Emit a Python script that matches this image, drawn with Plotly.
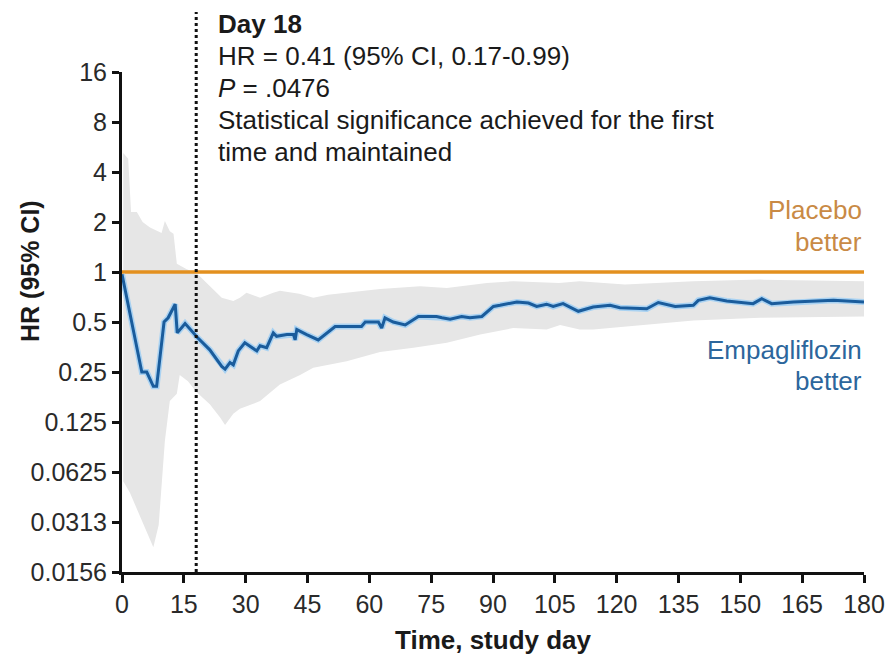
import plotly.graph_objects as go

# Hazard ratio over time (study day), with 95% CI band
hr_day = [0, 4.8, 6, 7.6, 8.4, 10.2, 11.2, 12.9, 13.4, 15.3, 17.7, 18, 21.3, 24.2, 25,
          26.2, 27, 28.2, 29.8, 32.7, 33.5, 35.1, 36.7, 37.5, 40, 41.6, 42, 42.4, 44.8,
          47.6, 51.7, 58.1, 59, 62.2, 63, 63.8, 65.8, 68.7, 71.9, 76.3, 77.6, 79.6, 82.4,
          84.4, 87.3, 90.1, 91.7, 95.8, 98.6, 100.6, 103, 104.6, 107, 110.7, 114.3, 118.4,
          120.8, 127.3, 130.1, 134.2, 138.6, 139.8, 142.6, 146.7, 153.1, 155.2, 157.6,
          162.9, 172.6, 180]
hr_val = [0.97, 0.25, 0.25, 0.205, 0.205, 0.5, 0.53, 0.64, 0.43, 0.49, 0.42, 0.41, 0.34,
          0.27, 0.26, 0.285, 0.276, 0.335, 0.375, 0.335, 0.36, 0.35, 0.43, 0.41, 0.42, 0.42,
          0.39, 0.45, 0.42, 0.39, 0.47, 0.47, 0.5, 0.5, 0.46, 0.53, 0.5, 0.48, 0.54, 0.54,
          0.53, 0.52, 0.54, 0.53, 0.54, 0.62, 0.63, 0.66, 0.65, 0.62, 0.64, 0.62, 0.645,
          0.58, 0.615, 0.63, 0.61, 0.6, 0.655, 0.62, 0.63, 0.675, 0.7, 0.67, 0.645, 0.69,
          0.645, 0.66, 0.675, 0.66]

ci_hi_day = [0.3, 1.0, 1.5, 2.2, 3.6, 5, 6.8, 9.6, 10.4, 11.6, 12.5, 13.3, 15.7, 18, 22,
             24.2, 27, 28.6, 30.2, 33.5, 36.7, 38.3, 43, 46.4, 50, 54.5, 62.6, 72.3, 78.8,
             88.5, 94.9, 106, 111, 122, 138.6, 154.8, 165, 180]
ci_hi = [5.2, 5.0, 4.8, 2.3, 2.3, 2.0, 1.85, 1.72, 2.03, 1.76, 1.7, 1.12, 1.04, 0.99, 0.79,
         0.7, 0.67, 0.7, 0.75, 0.7, 0.75, 0.77, 0.74, 0.7, 0.73, 0.75, 0.79, 0.82, 0.8,
         0.86, 0.88, 0.86, 0.88, 0.84, 0.88, 0.9, 0.89, 0.88]

ci_lo_day = [0.3, 1.9, 7.6, 8.9, 10.4, 11.6, 13.3, 14, 16, 18, 21.3, 23.8, 25, 27, 28.6,
             33.5, 38.3, 43.2, 46.4, 54.5, 62.6, 70.7, 78.8, 86.9, 94.9, 103, 106.3, 111,
             114.3, 122.4, 138.6, 154.8, 180]
ci_lo = [0.055, 0.047, 0.022, 0.03, 0.096, 0.167, 0.185, 0.24, 0.22, 0.19, 0.16, 0.133,
         0.12, 0.14, 0.15, 0.167, 0.21, 0.24, 0.265, 0.29, 0.33, 0.35, 0.375, 0.42, 0.46,
         0.45, 0.48, 0.45, 0.45, 0.47, 0.51, 0.53, 0.54]

ref_day = [0, 180]
ref_hr = [1, 1]

x_ticks = list(range(0, 181, 15))
y_ticks = [0.015625, 0.03125, 0.0625, 0.125, 0.25, 0.5, 1, 2, 4, 8, 16]
y_tick_text = ["0.0156", "0.0313", "0.0625", "0.125", "0.25", "0.5", "1", "2", "4", "8", "16"]

sig_day = 18

FONT = "Liberation Sans, Arial, sans-serif"
ORANGE = "#e3901f"
BLUE = "#1a5c9c"

fig = go.Figure()

# CI band as a closed polygon: upper edge left-to-right, lower edge right-to-left
fig.add_trace(go.Scatter(
    x=ci_hi_day + ci_lo_day[::-1],
    y=ci_hi + ci_lo[::-1],
    fill="toself", fillcolor="#e6e6e6", line=dict(width=0),
    mode="lines", hoverinfo="skip", showlegend=False))

# reference line HR = 1
fig.add_trace(go.Scatter(x=ref_day, y=ref_hr, mode="lines",
                         line=dict(color=ORANGE, width=3.5), showlegend=False))

# HR curve with a soft light halo
fig.add_trace(go.Scatter(x=hr_day, y=hr_val, mode="lines",
                         line=dict(color="#a9d2f2", width=6), showlegend=False,
                         hoverinfo="skip"))
fig.add_trace(go.Scatter(x=hr_day, y=hr_val, mode="lines",
                         line=dict(color=BLUE, width=3), showlegend=False))

# day of first significance
fig.add_shape(type="line", x0=sig_day, x1=sig_day, xref="x", yref="paper",
              y0=0, y1=1.12, line=dict(color="#111111", width=3, dash="dot"))


def px_x(px):
    return (px - 122) / 742


def px_y(py):
    return (572 - py) / 500


notes = [
    ("<b>Day 18</b>", 24),
    ("HR = 0.41 (95% CI, 0.17-0.99)", 56),
    ("<i>P</i> = .0476", 88),
    ("Statistical significance achieved for the first", 120),
    ("time and maintained", 152),
]
for txt, yc in notes:
    fig.add_annotation(text=txt, x=px_x(216), y=px_y(yc), xref="paper", yref="paper",
                       xanchor="left", yanchor="middle", showarrow=False,
                       font=dict(family=FONT, size=26, color="#1a1a1a"))

for txt, yc, col in [("Placebo", 210, "#c98a45"), ("better", 242, "#c98a45"),
                     ("Empagliflozin", 350, "#2c669c"), ("better", 381, "#2c669c")]:
    fig.add_annotation(text=txt, x=px_x(864), y=px_y(yc), xref="paper", yref="paper",
                       xanchor="right", yanchor="middle", showarrow=False,
                       font=dict(family=FONT, size=26, color=col))

fig.add_annotation(text="<b>HR (95% CI)</b>", textangle=-90, x=px_x(30), y=px_y(271),
                   xref="paper", yref="paper", xanchor="center", yanchor="middle",
                   showarrow=False, font=dict(family=FONT, size=25, color="#1a1a1a"))
fig.add_annotation(text="<b>Time, study day</b>", x=px_x(493), y=px_y(640),
                   xref="paper", yref="paper", xanchor="center", yanchor="middle",
                   showarrow=False, font=dict(family=FONT, size=26, color="#1a1a1a"))

fig.update_layout(
    width=887, height=663,
    margin=dict(l=122, r=23, t=72, b=91, autoexpand=False),
    paper_bgcolor="white", plot_bgcolor="white",
    font=dict(family=FONT, size=25, color="#2a2a2a"),
    xaxis=dict(range=[0, 180], tickvals=x_ticks, showgrid=False, zeroline=False,
               showline=True, linecolor="#111111", linewidth=3, automargin=False,
               ticks="outside", ticklen=8, tickwidth=3, tickcolor="#111111",
               tickfont=dict(size=25)),
    yaxis=dict(type="log", range=[-1.80618, 1.20412], tickvals=y_ticks, ticktext=y_tick_text,
               showgrid=False, zeroline=False, showline=True, linecolor="#111111",
               linewidth=3, ticks="outside", ticklen=7, tickwidth=3, tickcolor="#111111",
               tickfont=dict(size=25), automargin=False),
)

fig.write_html("out.html")
